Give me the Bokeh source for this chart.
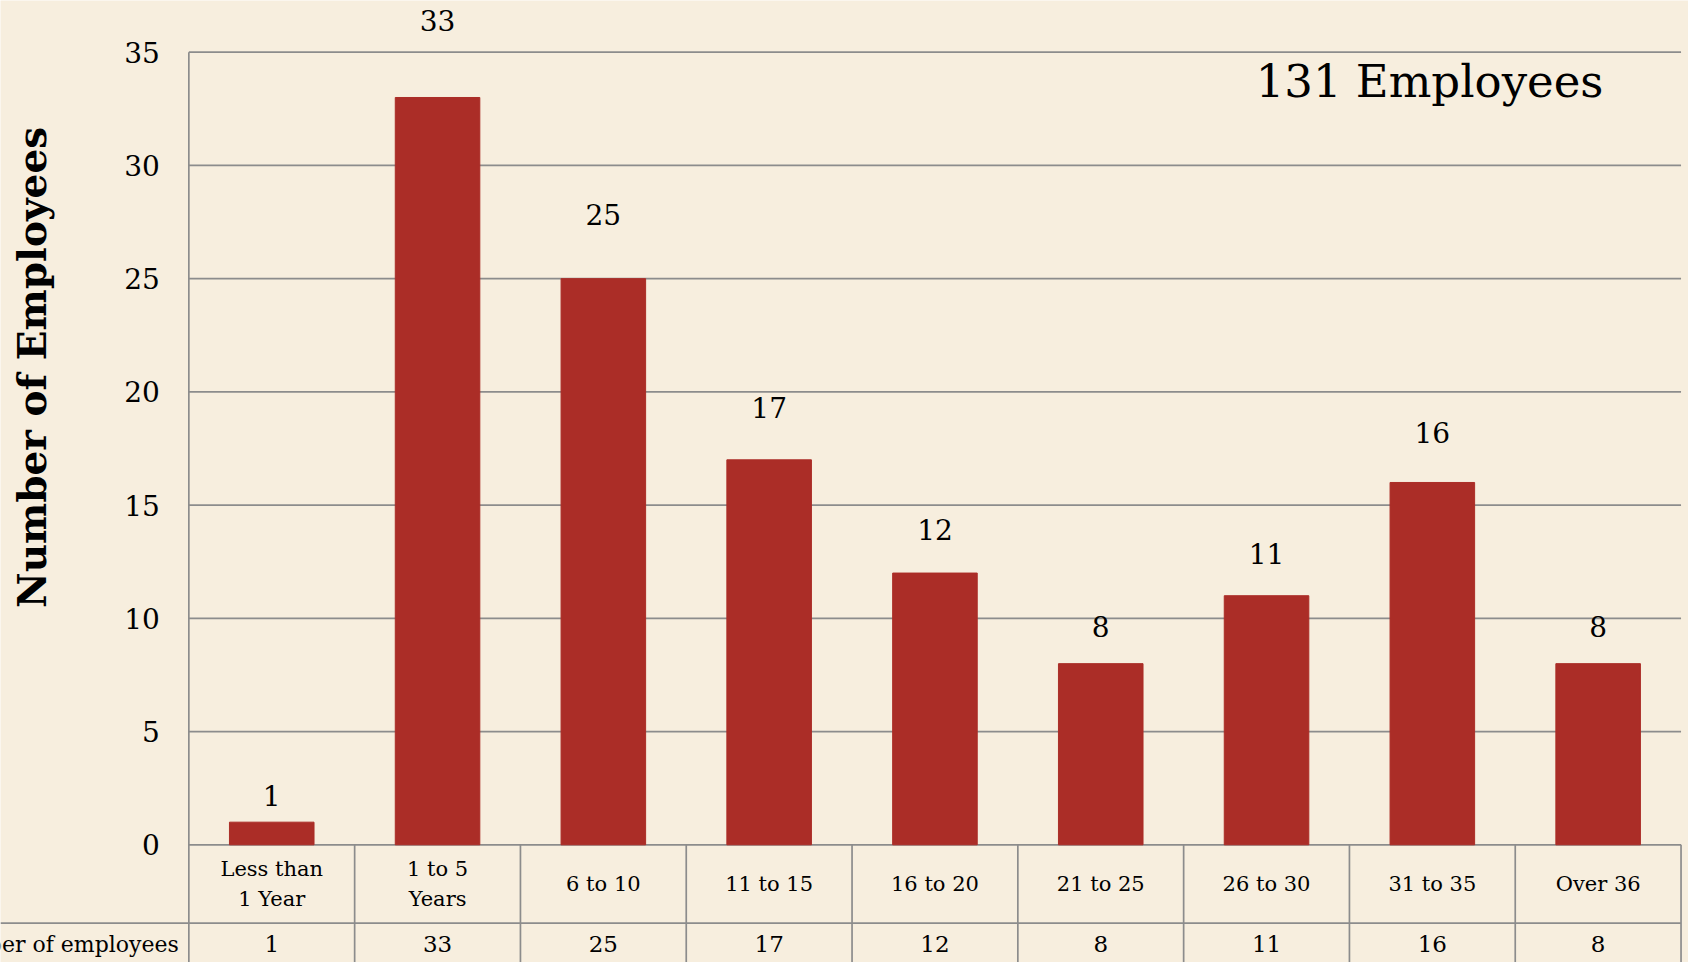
import math
from bokeh.plotting import figure
from bokeh.models import Range1d, ColumnDataSource
from bokeh.core.properties import value
from bokeh.embed import file_html
from bokeh.resources import INLINE

# ---- data ----
categories = ["Less than 1 Year", "1 to 5 Years", "6 to 10", "11 to 15", "16 to 20",
              "21 to 25", "26 to 30", "31 to 35", "Over 36"]
table_labels = ["Less than\n1 Year", "1 to 5\nYears", "6 to 10", "11 to 15", "16 to 20",
                "21 to 25", "26 to 30", "31 to 35", "Over 36"]
employees = [1, 33, 25, 17, 12, 8, 11, 16, 8]
y_ticks = [0, 5, 10, 15, 20, 25, 30, 35]
total_text = "131 Employees"
row_label = "Number of employees"
y_title = "Number of Employees"

# ---- style / layout ----
BG = "#F7EEDE"
BAR = "#AB2D27"
GRID = "#8C8C8C"
FONT = "DejaVu Serif"

W, H = 1688, 962
X_START, X_END = -1.136, 9.045          # category slots are [i, i+1]
Y_START, Y_END = -5.197, 37.283
ROW2_TOP = -3.458
ROW1_MID = -1.73
ROW2_MID = -4.40
N = len(categories)

x_pos = [i + 0.5 for i in range(N)]
bounds = list(range(N + 1))

p = figure(width=W, height=H, output_backend="svg", toolbar_location=None,
           x_range=Range1d(X_START, X_END), y_range=Range1d(Y_START, Y_END),
           x_axis_location=None, y_axis_location=None,
           min_border_left=0, min_border_right=0, min_border_top=0, min_border_bottom=0)
p.background_fill_color = BG
p.border_fill_color = BG
p.outline_line_color = None
p.grid.visible = False

src = ColumnDataSource(dict(
    x=x_pos, val=employees, lab=[str(v) for v in employees],
    laby=[v * 1.07 + 1.1 for v in employees], tlab=table_labels,
))

# horizontal gridlines (start at the value axis, end at the table's right border)
p.segment(x0=[0] * len(y_ticks), y0=y_ticks, x1=[N] * len(y_ticks), y1=y_ticks,
          line_color=GRID, line_width=1.7)
# value axis line (continues down as the table's left border)
p.segment(x0=[0], y0=[max(y_ticks)], x1=[0], y1=[Y_START], line_color=GRID, line_width=1.7)
# tick labels
p.text(x=[0] * len(y_ticks), y=y_ticks, text=[str(t) for t in y_ticks], x_offset=-29,
       text_font=value(FONT), text_font_size=value("28px"), text_align="right",
       text_baseline="middle", text_color="black")
# axis title
p.text(x=[-0.943], y=[21.08], text=[y_title], angle=math.pi / 2,
       text_font=value(FONT), text_font_style="bold", text_font_size=value("39px"),
       text_align="center", text_baseline="middle", text_color="black")

# bars and value labels
p.vbar(x="x", top="val", width=0.51, source=src, fill_color=BAR, line_color=BAR)
p.text(x="x", y="laby", text="lab", source=src, text_font=value(FONT),
       text_font_size=value("28px"), text_align="center", text_baseline="middle",
       text_color="black")

# data table under the chart
p.segment(x0=bounds[1:], y0=[0] * N, x1=bounds[1:], y1=[Y_START] * N,
          line_color=GRID, line_width=1.7)
p.segment(x0=[X_START], y0=[ROW2_TOP], x1=[N], y1=[ROW2_TOP], line_color=GRID, line_width=1.7)
p.text(x="x", y=ROW1_MID, text="tlab", source=src, text_font=value(FONT),
       text_font_size=value("21px"), text_align="center", text_baseline="middle",
       text_line_height=1.22, text_color="black")
p.text(x="x", y=ROW2_MID, text="lab", source=src, text_font=value(FONT),
       text_font_size=value("23px"), text_align="center", text_baseline="middle",
       text_color="black")
p.text(x=[0], y=[ROW2_MID], x_offset=-10, text=[row_label], text_font=value(FONT),
       text_font_size=value("22px"), text_align="right", text_baseline="middle",
       text_color="black")

# total annotation
p.text(x=[7.483], y=[33.71], text=[total_text], text_font=value(FONT),
       text_font_size=value("45px"), text_align="center", text_baseline="middle",
       text_color="black")

open("out.html", "w").write(file_html(p, INLINE))
